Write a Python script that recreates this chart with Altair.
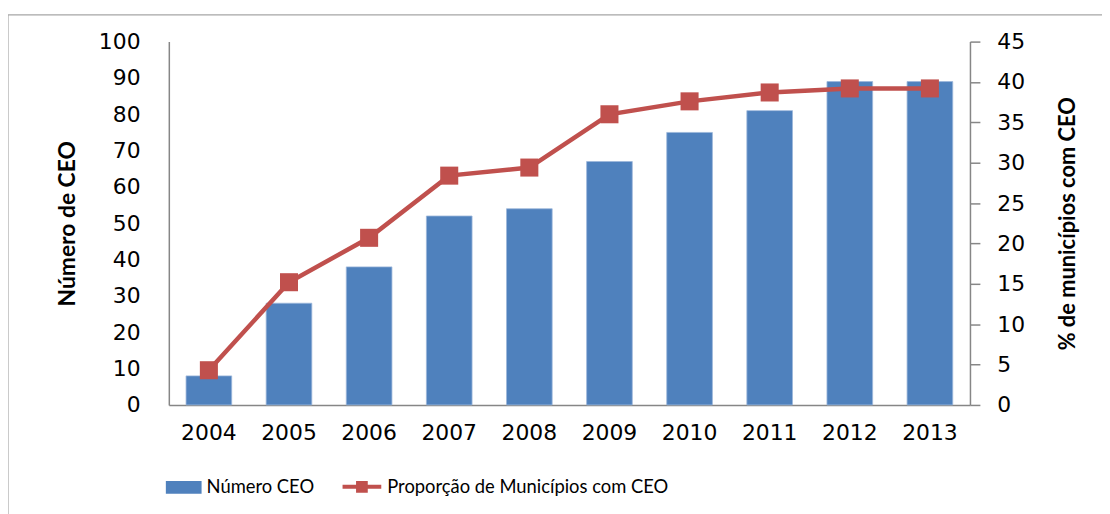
import altair as alt
import pandas as pd

years = ["2004", "2005", "2006", "2007", "2008", "2009", "2010", "2011", "2012", "2013"]
num_ceo = [8, 28, 38, 52, 54, 67, 75, 81, 89, 89]
prop_mun = [4.3, 15.2, 20.7, 28.4, 29.4, 36.0, 37.6, 38.7, 39.2, 39.2]
left_ticks = [0, 10, 20, 30, 40, 50, 60, 70, 80, 90, 100]
right_ticks = [0, 5, 10, 15, 20, 25, 30, 35, 40, 45]
series_bar = "Número CEO"
series_line = "Proporção de Municípios com CEO"

df = pd.DataFrame({
    "ano": years,
    "num": num_ceo,
    "prop": prop_mun,
    "s1": [series_bar] * len(years),
    "s2": [series_line] * len(years),
})

BLUE = "#4F81BD"
RED = "#C0504D"
AXIS = "#868686"
TICKFONT = "DejaVu Sans"
NARROW = "Lato"
TICKSIZE = 22

xenc = alt.X(
    "ano:N",
    sort=years,
    scale=alt.Scale(paddingInner=0.43, paddingOuter=0.215),
    axis=alt.Axis(
        title=None, labelAngle=0, ticks=False, tickSize=0, labelPadding=18,
        labelFont=TICKFONT, labelFontSize=TICKSIZE, labelColor="#000000",
        domainColor=AXIS, domainWidth=1.5, grid=False,
    ),
)

base = alt.Chart(df).encode(x=xenc)

bars = base.mark_bar(color=BLUE, stroke="#9DB7DA", strokeWidth=0.8).encode(
    y=alt.Y(
        "num:Q",
        scale=alt.Scale(domain=[0, 100], nice=False),
        axis=alt.Axis(
            title="Número de CEO", values=left_ticks, ticks=False, tickSize=0,
            labelPadding=29, labelFont=TICKFONT, labelFontSize=TICKSIZE, labelColor="#000000",
            domainColor=AXIS, domainWidth=1.5, grid=False,
            titleFont=NARROW, titleFontSize=23, titleFontWeight="bold", titleColor="#000000",
            titleAngle=270, titleX=-102, titleY=183, titleAlign="center", titleBaseline="middle",
        ),
    ),
    color=alt.Color(
        "s1:N",
        scale=alt.Scale(domain=[series_bar], range=[BLUE]),
        legend=alt.Legend(
            orient="none", legendX=-3, legendY=431, title=None, padding=0,
            symbolType="M-1,-0.36L1,-0.36L1,0.36L-1,0.36Z", symbolSize=1296,
            symbolStrokeWidth=0, symbolFillColor=BLUE, symbolOpacity=1,
            labelFont=NARROW, labelFontSize=18.5, labelColor="#000000", labelOffset=5,
            labelLimit=600,
        ),
    ),
)

yright = alt.Y(
    "prop:Q",
    scale=alt.Scale(domain=[0, 45], nice=False),
    axis=alt.Axis(
        orient="right", title="% de municípios com CEO", values=right_ticks,
        ticks=True, tickSize=10, tickColor=AXIS, tickWidth=1.5, labelPadding=17,
        labelFont=TICKFONT, labelFontSize=TICKSIZE, labelColor="#000000",
        domainColor=AXIS, domainWidth=1.5, grid=False,
        titleFont=NARROW, titleFontSize=22, titleFontWeight="bold", titleColor="#000000",
        titleAngle=270, titleX=98, titleY=183, titleAlign="center", titleBaseline="middle",
    ),
)

line = base.mark_line(strokeWidth=4.5).encode(
    y=yright,
    color=alt.Color(
        "s2:N",
        scale=alt.Scale(domain=[series_line], range=[RED]),
        legend=alt.Legend(
            orient="none", legendX=173, legendY=427, title=None, padding=0,
            symbolType="M-1,0L1,0M-0.2,-0.2L0.2,-0.2L0.2,0.2L-0.2,0.2Z", symbolSize=1521,
            symbolStrokeWidth=4, symbolStrokeColor=RED, symbolFillColor=RED, symbolOpacity=1,
            labelFont=NARROW, labelFontSize=18.5, labelColor="#000000", labelOffset=4,
            labelLimit=600,
        ),
    ),
)

points = base.mark_point(shape="square", filled=True, size=330, color=RED, opacity=1).encode(
    y=yright
)

right = alt.layer(line, points)

frame = alt.Chart(alt.Data(values=[{"f": 1}])).mark_rect(
    fillOpacity=0, stroke="#A6A6A6", strokeWidth=1.2
).encode(
    x=alt.value(-162), x2=alt.value(1000), y=alt.value(-27), y2=alt.value(540)
)

chart = alt.layer(frame, bars, right).resolve_scale(
    y="independent", color="independent"
).properties(
    width=807, height=366,
    autosize=alt.AutoSizeParams(type="none"),
    padding={"left": 162, "top": 32, "right": 133, "bottom": 108},
    background="white",
).configure_view(stroke=None)

chart.save("out.html", embed_options={"renderer": "svg", "actions": False})
